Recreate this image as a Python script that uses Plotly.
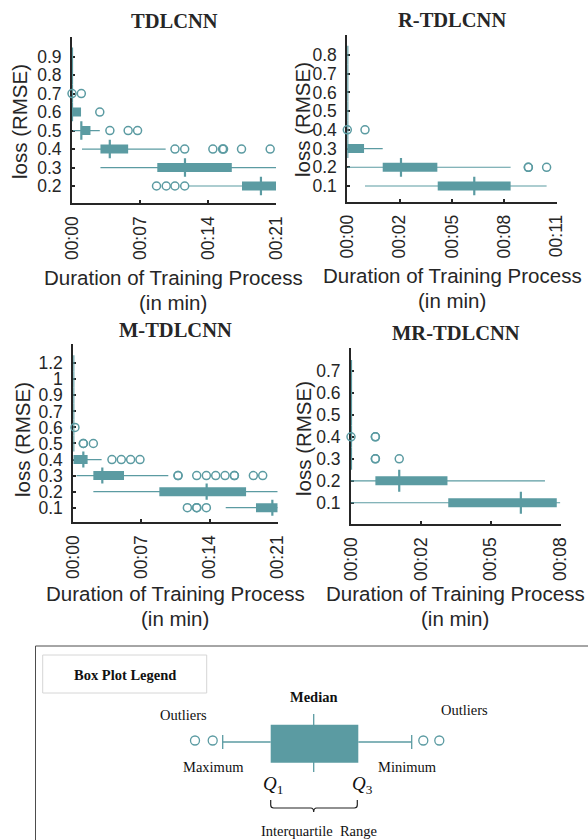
import numpy as np
import plotly.graph_objects as go

FIG_W, FIG_H = 588, 840
TEAL = "#5b9ba2"
INK = "#262626"
SANS = "Liberation Sans, Arial, sans-serif"
SERIF = "Liberation Serif, Times New Roman, serif"

# ---------------- training-time box statistics (seconds) ----------------
# TDLCNN
tdlcnn_loss = [0.2, 0.3, 0.4, 0.5, 0.6, 0.7, 0.8, 0.9]
tdlcnn_lo = [12.05, 2.93, 1.03, 0.10, 0.0, 0.0, 0.0, 0.0]
tdlcnn_q1 = [17.5, 8.78, 2.93, 0.96, 0.0, 0.0, 0.0, 0.0]
tdlcnn_med = [19.45, 11.63, 3.89, 0.96, 0.0, 0.0, 0.0, 0.0]
tdlcnn_q3 = [21.0, 16.45, 5.78, 1.90, 0.93, 0.0, 0.0, 0.0]
tdlcnn_hi = [21.0, 21.0, 9.64, 2.86, 0.93, 0.0, 0.0, 0.0]
tdlcnn_out = [[8.7, 9.7, 10.6, 11.6], [],
              [10.6, 11.6, 14.5, 15.5, 15.6, 17.45, 20.4],
              [3.9, 5.78, 6.75], [2.86], [0.0, 0.96], [], []]

# R-TDLCNN
rtdlcnn_loss = [0.1, 0.2, 0.3, 0.4, 0.5, 0.6, 0.7, 0.8]
rtdlcnn_lo = [0.93, 0.0, 0.0, 0.0, 0.0, 0.0, 0.0, 0.0]
rtdlcnn_q1 = [4.75, 1.86, 0.0, 0.0, 0.0, 0.0, 0.0, 0.0]
rtdlcnn_med = [6.67, 2.82, 0.0, 0.0, 0.0, 0.0, 0.0, 0.0]
rtdlcnn_q3 = [8.58, 4.73, 0.88, 0.0, 0.0, 0.0, 0.0, 0.0]
rtdlcnn_hi = [10.47, 8.58, 1.86, 0.0, 0.0, 0.0, 0.0, 0.0]
rtdlcnn_out = [[], [9.51, 9.51, 10.47], [], [0.0, 0.93], [], [], [], []]

# M-TDLCNN
mtdlcnn_loss = [0.1, 0.2, 0.3, 0.4, 0.5, 0.6, 0.7, 0.9, 1.0, 1.2]
mtdlcnn_lo = [15.66, 2.06, 0.34, 0.0, 0.0, 0.0, 0.0, 0.0, 0.0, 0.0]
mtdlcnn_q1 = [18.77, 8.84, 2.06, 0.0, 0.0, 0.0, 0.0, 0.0, 0.0, 0.0]
mtdlcnn_med = [20.45, 13.7, 2.98, 1.03, 0.0, 0.0, 0.0, 0.0, 0.0, 0.0]
mtdlcnn_q3 = [21.0, 17.75, 5.21, 1.47, 0.0, 0.0, 0.0, 0.0, 0.0, 0.0]
mtdlcnn_hi = [21.0, 21.0, 9.76, 2.91, 0.0, 0.0, 0.0, 0.0, 0.0, 0.0]
mtdlcnn_out = [[11.72, 12.68, 12.68, 13.67], [],
               [10.76, 10.76, 12.68, 13.67, 14.63, 15.59, 16.55, 16.55, 18.5, 19.46],
               [3.97, 4.93, 5.89, 6.85], [1.03, 1.03, 2.06], [0.17],
               [], [], [], []]

# MR-TDLCNN
mrtdlcnn_loss = [0.1, 0.2, 0.3, 0.4, 0.5, 0.6, 0.7]
mrtdlcnn_lo = [0.0, 0.0, 0.0, 0.0, 0.0, 0.0, 0.0]
mrtdlcnn_q1 = [3.71, 0.93, 0.0, 0.0, 0.0, 0.0, 0.0]
mrtdlcnn_med = [6.48, 1.84, 0.0, 0.0, 0.0, 0.0, 0.0]
mrtdlcnn_q3 = [7.85, 3.68, 0.0, 0.0, 0.0, 0.0, 0.0]
mrtdlcnn_hi = [7.98, 7.4, 0.0, 0.0, 0.0, 0.0, 0.0]
mrtdlcnn_out = [[], [], [0.93, 0.93, 1.84], [0.0, 0.93, 0.93], [], [], []]

# legend illustration (drawn in page-pixel units)
legend_stats = [222.7, 270.7, 313.7, 358.3, 411.7]   # whisker, Q1, median, Q3, whisker
legend_outliers = [195.0, 212.7, 423.3, 439.3]

panels = [
    dict(name="TDLCNN", loss=tdlcnn_loss, lo=tdlcnn_lo, q1=tdlcnn_q1, med=tdlcnn_med,
         q3=tdlcnn_q3, hi=tdlcnn_hi, out=tdlcnn_out, xmax=21, nticks=4,
         px=(72, 276), py=(36.7, 203.3), yr=(0.064, 9.08)),
    dict(name="R-TDLCNN", loss=rtdlcnn_loss, lo=rtdlcnn_lo, q1=rtdlcnn_q1, med=rtdlcnn_med,
         q3=rtdlcnn_q3, hi=rtdlcnn_hi, out=rtdlcnn_out, xmax=11, nticks=5,
         px=(347.3, 556.7), py=(35, 201.7), yr=(0.16, 9.07)),
    dict(name="M-TDLCNN", loss=mtdlcnn_loss, lo=mtdlcnn_lo, q1=mtdlcnn_q1, med=mtdlcnn_med,
         q3=mtdlcnn_q3, hi=mtdlcnn_hi, out=mtdlcnn_out, xmax=21, nticks=4,
         px=(73.3, 277.7), py=(344.3, 522.3), yr=(0.09, 11.18)),
    dict(name="MR-TDLCNN", loss=mrtdlcnn_loss, lo=mrtdlcnn_lo, q1=mrtdlcnn_q1, med=mrtdlcnn_med,
         q3=mrtdlcnn_q3, hi=mrtdlcnn_hi, out=mrtdlcnn_out, xmax=8, nticks=4,
         px=(351, 560.7), py=(348.3, 524.3), yr=(0.02, 8.03)),
]

fig = go.Figure()
layout = dict(template="none", width=FIG_W, height=FIG_H,
              margin=dict(l=0, r=0, t=0, b=0, pad=0, autoexpand=False),
              paper_bgcolor="white", plot_bgcolor="rgba(0,0,0,0)", showlegend=False)
annotations, shapes = [], []


def ann(x, y, text, size, family=SANS, angle=0, **kw):
    annotations.append(dict(x=x, y=y, xref="x5", yref="y5", text=text, showarrow=False,
                            textangle=angle, xanchor="center", yanchor="middle",
                            font=dict(family=family, size=size, color=kw.pop("color", INK)), **kw))


def seg_trace(xs, ys, xa, ya, width, color=TEAL):
    return go.Scatter(x=xs, y=ys, xaxis=xa, yaxis=ya, mode="lines", cliponaxis=False,
                      line=dict(color=color, width=width), hoverinfo="skip")


for k, p in enumerate(panels, start=1):
    xa, ya = f"x{k}", f"y{k}"
    pos = list(range(1, len(p["loss"]) + 1))
    wx, wy, bx, by, mx, my, ox, oy = [], [], [], [], [], [], [], []
    for i, y in enumerate(pos):
        if p["hi"][i] > p["lo"][i]:
            wx += [p["lo"][i], p["hi"][i], None]; wy += [y, y, None]
        if p["q3"][i] > p["q1"][i]:
            bx += [p["q1"][i], p["q3"][i], None]; by += [y, y, None]
        mx += [p["med"][i], p["med"][i], None]; my += [y - 0.5, y + 0.5, None]
        ox += p["out"][i]; oy += [y] * len(p["out"][i])
    fig.add_trace(seg_trace(wx, wy, xa, ya, 1.2))
    fig.add_trace(seg_trace(mx, my, xa, ya, 2.2))
    fig.add_trace(seg_trace(bx, by, xa, ya, 9))
    fig.add_trace(go.Scatter(x=ox, y=oy, xaxis=xa, yaxis=ya, mode="markers", cliponaxis=False,
                             marker=dict(symbol="circle-open", size=8, color=TEAL,
                                         line=dict(width=1.5, color=TEAL)), hoverinfo="skip"))

    tv = np.linspace(0, p["xmax"], p["nticks"])
    tt = [f"00:{int(v + 1e-9):02d}" for v in tv]
    suffix = "" if k == 1 else str(k)
    layout["xaxis" + suffix] = dict(
        domain=[p["px"][0] / FIG_W, p["px"][1] / FIG_W], range=[0, p["xmax"]],
        anchor=ya, tickvals=tv, ticktext=tt, tickangle=-90, showgrid=False, zeroline=False,
        automargin=False, showline=True, linecolor=INK, linewidth=2, ticks="inside",
        ticklen=3, tickwidth=1.5, tickcolor=INK, layer="below traces",
        tickfont=dict(family=SANS, size=17.5, color=INK), ticklabelstandoff=4)
    layout["yaxis" + suffix] = dict(
        domain=[1 - p["py"][1] / FIG_H, 1 - p["py"][0] / FIG_H], range=list(p["yr"]),
        anchor=xa, tickvals=pos, ticktext=[f"{v:g}" for v in p["loss"]], showgrid=False,
        zeroline=False, automargin=False, showline=True, linecolor=INK, linewidth=2,
        ticks="inside", ticklen=3, tickwidth=1.5, tickcolor=INK, layer="below traces",
        tickfont=dict(family=SANS, size=17.5, color=INK), ticklabelstandoff=5)

# overlay axis in page-pixel units for text and the legend illustration
layout["xaxis5"] = dict(domain=[0, 1], range=[0, FIG_W], visible=False, anchor="y5",
                        automargin=False)
layout["yaxis5"] = dict(domain=[0, 1], range=[FIG_H, 0], visible=False, anchor="x5",
                        automargin=False)

# panel titles and axis titles
title_xy = [(174, 21), (452, 20), (175.5, 330), (456, 333)]
ytitle_xy = [(19, 122), (302, 120), (22, 440), (303, 439)]
xtitle_xy = [(173, 277), (452, 275), (175, 593), (455, 593)]
for p, (tx, ty), (yx, yy), (xx, xy) in zip(panels, title_xy, ytitle_xy, xtitle_xy):
    ann(tx, ty, f"<b>{p['name']}</b>", 20.5, SERIF)
    ann(yx, yy, "loss (RMSE)", 20.5, angle=-90)
    ann(xx, xy, "Duration of Training Process", 20.5)
    ann(xx, xy + 25, "(in min)", 20.5)

# legend frame
shapes.append(dict(type="rect", xref="x5", yref="y5", x0=35.5, x1=600, y0=646, y1=860,
                   line=dict(color="#4d4d4d", width=1)))
shapes.append(dict(type="rect", xref="x5", yref="y5", x0=42.7, x1=206.7, y0=655, y1=693,
                   line=dict(color="#d6d6d6", width=1)))
ann(124.7, 675, "<b>Box Plot Legend</b>", 14.5, SERIF, color="#111")

# legend illustration
lw_lo, lq1, lmed, lq3, lw_hi = legend_stats
ly = 742
fig.add_trace(seg_trace([lw_lo, lq1, None, lq3, lw_hi], [ly, ly, None, ly, ly], "x5", "y5", 1.3))
fig.add_trace(seg_trace([lw_lo, lw_lo, None, lw_hi, lw_hi], [ly - 7, ly + 7, None, ly - 7, ly + 7],
                        "x5", "y5", 1.3))
fig.add_trace(seg_trace([lmed, lmed], [714, 772], "x5", "y5", 1.3))
fig.add_trace(seg_trace([lq1, lq3], [743.8, 743.8], "x5", "y5", 38))
fig.add_trace(go.Scatter(x=legend_outliers, y=[ly - 1.5] * len(legend_outliers), xaxis="x5",
                         yaxis="y5", mode="markers", cliponaxis=False, hoverinfo="skip",
                         marker=dict(symbol="circle-open", size=9, color=TEAL,
                                     line=dict(width=1.3, color=TEAL))))

ann(313.7, 697, "<b>Median</b>", 14.5, SERIF, color="#111")
ann(183.3, 715, "Outliers", 14.5, SERIF, color="#111")
ann(464, 710, "Outliers", 14.5, SERIF, color="#111")
ann(213.3, 767, "Maximum", 14.5, SERIF, color="#111")
ann(407.7, 767, "Minimum", 14.5, SERIF, color="#111")
ann(273, 785, "<i>Q</i><sub>1</sub>", 19, SERIF, color="#111")
ann(362, 785, "<i>Q</i><sub>3</sub>", 19, SERIF, color="#111")
ann(318.7, 831, "Interquartile  Range", 14.5, SERIF, color="#111")

# curly brace under the interquartile range
bx0, bx1, bmid = 270.7, 357.3, 313.7
shapes.append(dict(type="path", xref="x5", yref="y5",
                   path=(f"M {bx0},800 L {bx0},805 Q {bx0},808 {bx0+3},808 L {bmid-3},808 "
                         f"Q {bmid},808 {bmid},812 Q {bmid},808 {bmid+3},808 L {bx1-3},808 "
                         f"Q {bx1},808 {bx1},805 L {bx1},800"),
                   line=dict(color="#222", width=1.2)))

layout["annotations"] = annotations
layout["shapes"] = shapes
fig.update_layout(**layout)
fig.write_html("out.html")
